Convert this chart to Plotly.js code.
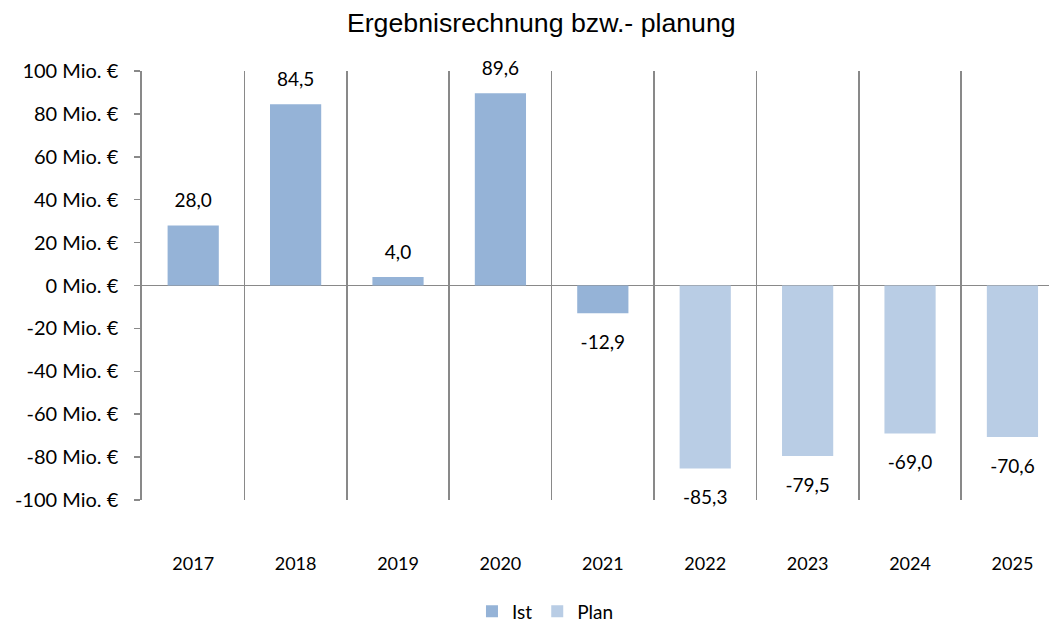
<!DOCTYPE html>
<html>
<head>
<meta charset="utf-8">
<script src="https://cdn.plot.ly/plotly-3.0.1.min.js"></script>
<style>html,body{margin:0;padding:0;background:#fff;}#chart{width:1049px;height:624px;}</style>
</head>
<body>
<div id="chart"></div>
<script>
var years = ["2017","2018","2019","2020","2021","2022","2023","2024","2025"];
var istYears = ["2017","2018","2019","2020","2021"];
var istValues = [28.0, 84.5, 4.0, 89.6, -12.9];
var planYears = ["2022","2023","2024","2025"];
var planValues = [-85.3, -79.5, -69.0, -70.6];
var yTicks = [-100,-80,-60,-40,-20,0,20,40,60,80,100];
var yTickText = yTicks.map(function(v){ return v + " Mio. \u20AC"; });

var FONT = "Lato, 'Open Sans', sans-serif";
var ist = {type:'bar', name:'Ist', x:istYears, y:istValues, width:0.5,
  marker:{color:'#95B3D7'}, hoverinfo:'skip'};
var plan = {type:'bar', name:'Plan', x:planYears, y:planValues, width:0.5,
  marker:{color:'#B9CDE5'}, hoverinfo:'skip'};

function fmt(v){ return v.toFixed(1).replace('.', ','); }
var allX = istYears.concat(planYears);
var allV = istValues.concat(planValues);
var labels = {type:'scatter', mode:'markers+text', x:allX, y:allV, showlegend:false,
  text:allV.map(fmt), textposition:allV.map(function(v){ return v>=0 ? 'top center' : 'bottom center'; }),
  marker:{size:allV.map(function(v){ return v>=0 ? 20 : 33; }), opacity:0}, cliponaxis:false, hoverinfo:'skip',
  textfont:{family:FONT, size:19, color:'#000'}};

var layout = {
  width:1049, height:624,
  margin:{l:142, r:0, t:71, b:124},
  paper_bgcolor:'#fff', plot_bgcolor:'#fff',
  barmode:'overlay',
  title:{text:'Ergebnisrechnung bzw.- planung', x:0.516, xref:'container', xanchor:'center',
    y:0.963, yref:'container', yanchor:'middle',
    font:{family:"'Liberation Sans', Arial, sans-serif", size:26.7, color:'#000'}},
  xaxis:{type:'category', categoryorder:'array', categoryarray:years,
    range:[-0.5, 8.357], tickson:'boundaries', showgrid:true, gridcolor:'#898989', gridwidth:1.7,
    showline:false, zeroline:false, ticks:'', ticklabelstandoff:51,
    tickfont:{family:FONT, size:18, color:'#000'}},
  yaxis:{range:[-100,100], tickmode:'array', tickvals:yTicks, ticktext:yTickText, showgrid:false,
    zeroline:true, zerolinecolor:'#898989', zerolinewidth:1.7,
    showline:true, linecolor:'#898989', linewidth:1.7, ticks:'outside', ticklen:6,
    tickcolor:'#898989', tickwidth:1.5, ticklabelstandoff:12,
    tickfont:{family:FONT, size:20, color:'#000'}},
  showlegend:true,
  legend:{orientation:'h', x:0.52, xref:'container', xanchor:'center', y:0.02, yref:'container', yanchor:'middle',
    itemwidth:30, font:{family:FONT, size:19, color:'#000'}}
};
Plotly.newPlot('chart', [ist, plan, labels], layout, {displayModeBar:false, staticPlot:true});
</script>
</body>
</html>
